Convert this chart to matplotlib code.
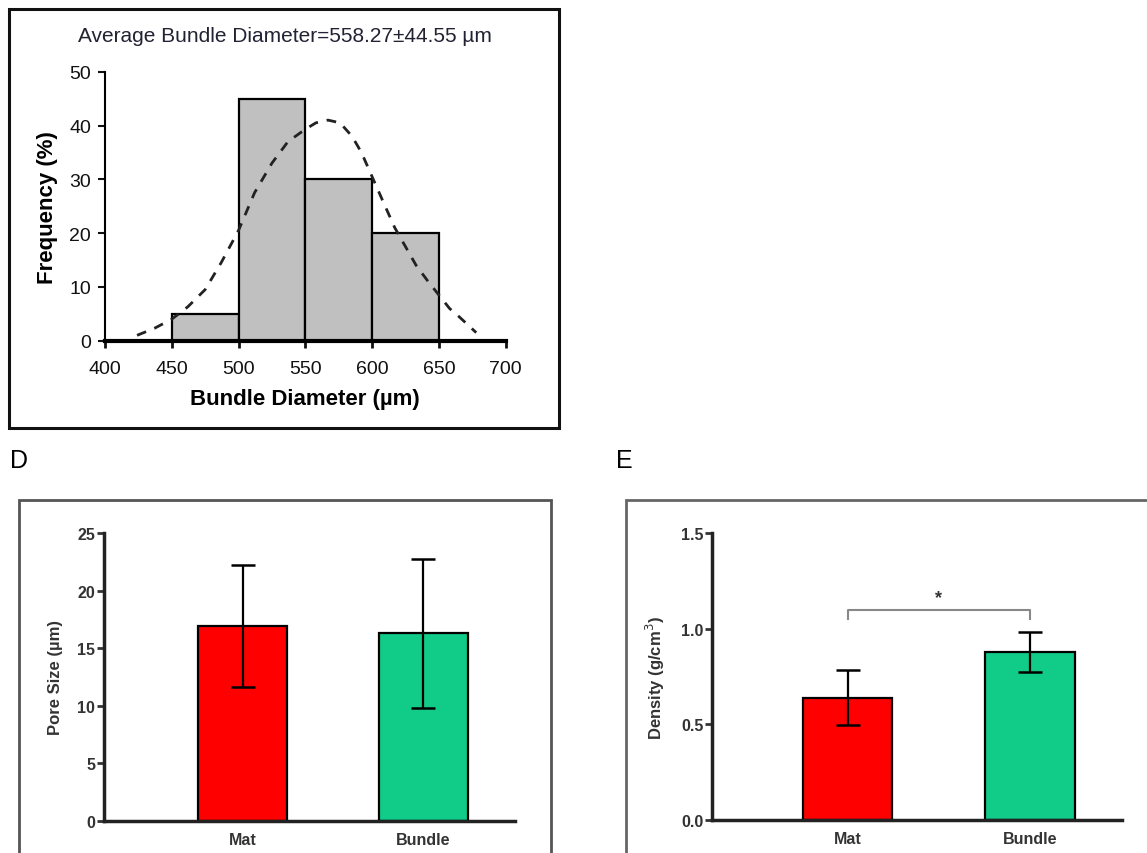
import matplotlib
matplotlib.use("Agg")
import matplotlib.pyplot as plt
from matplotlib.patches import Rectangle

plt.rcParams['font.family'] = ['Liberation Sans', 'DejaVu Sans']

# ---- data: histogram panel ----
bin_edges = [450, 500, 550, 600, 650]
frequency = [5, 45, 30, 20]
curve_x = [424, 437, 450, 462, 475, 487, 500, 512, 525, 537, 550, 558, 567, 576,
           585, 592, 600, 608, 617, 625, 633, 642, 650, 658, 665, 678]
curve_y = [1.0, 2.3, 4.0, 6.3, 9.5, 14.5, 20.5, 27.5, 33, 37, 39.3, 40.5, 41, 40.5,
           38, 35, 30.5, 26, 21, 17.5, 14, 11, 8.5, 6, 4.5, 1.5]
hist_title = "Average Bundle Diameter=558.27\u00b144.55 \u00b5m"
hist_xticks = [400, 450, 500, 550, 600, 650, 700]
hist_yticks = [0, 10, 20, 30, 40, 50]

# ---- data: bar panels ----
groups = ["Mat", "Bundle"]
pore_mean = [16.9, 16.3]
pore_err = [5.3, 6.5]
dens_mean = [0.64, 0.88]
dens_err = [0.145, 0.105]
pore_yticks = [0, 5, 10, 15, 20, 25]
dens_yticks = [0.0, 0.5, 1.0, 1.5]
bar_colors = ["#ff0000", "#10cc88"]

W, H = 1147, 854
fig = plt.figure(figsize=(W / 100, H / 100), dpi=100)


def frac_rect(x0, y0, x1, y1):
    """pixel box (top-left origin) -> figure fraction [l, b, w, h]"""
    return [x0 / W, 1 - y1 / H, (x1 - x0) / W, (y1 - y0) / H]


def add_box(x0, y0, x1, y1, color, lw):
    l, b, w, h = frac_rect(x0, y0, x1, y1)
    fig.patches.append(Rectangle((l, b), w, h, transform=fig.transFigure,
                                 fill=False, edgecolor=color, linewidth=lw,
                                 clip_on=False, zorder=0))


# panel frames
add_box(9, 10, 558.5, 429, "#111111", 2.2)
add_box(19, 501, 550.5, 900, "#555555", 2.0)
add_box(625.5, 501, 1200, 900, "#666666", 2.0)

# ---------------- histogram ----------------
ax1 = fig.add_axes(frac_rect(105, 72.7, 505.6, 341.7))
widths = [bin_edges[i + 1] - bin_edges[i] for i in range(len(frequency))]
ax1.bar(bin_edges[:-1], frequency, width=widths, align='edge',
        color="#c0c0c0", edgecolor="black", linewidth=1.6, zorder=2)
ax1.plot(curve_x, curve_y, color="#222222", linestyle=(0, (3.5, 3.2)),
         linewidth=2.0, zorder=3)
ax1.set_xlim(400, 700)
ax1.set_ylim(0, 50)
ax1.set_xticks(hist_xticks)
ax1.set_yticks(hist_yticks)
for s in ["top", "right"]:
    ax1.spines[s].set_visible(False)
ax1.spines["left"].set_linewidth(1.5)
ax1.spines["bottom"].set_linewidth(3.0)
ax1.tick_params(axis="y", direction="out", length=5, width=1.5,
                labelsize=14, colors="#111111", pad=5)
ax1.tick_params(axis="x", direction="out", length=5, width=2,
                labelsize=14, colors="#111111", pad=9)
ax1.set_xlabel("Bundle Diameter (\u00b5m)", fontsize=16, fontweight="bold",
               labelpad=8)
ax1.set_ylabel("Frequency (%)", fontsize=16, fontweight="bold", labelpad=8)
fig.text(285 / W, 1 - 37 / H, hist_title, ha="center", va="center",
         fontsize=15, color="#222233")

# panel letters
fig.text(10 / W, 1 - 461 / H, "D", fontsize=18, ha="left", va="center")
fig.text(616 / W, 1 - 461 / H, "E", fontsize=18, ha="left", va="center")


def bar_panel(rect_px, means, errs, yticks, ylim, ylabel, xlim, fmt):
    ax = fig.add_axes(frac_rect(*rect_px))
    x = list(range(len(groups)))
    ax.bar(x, means, width=0.49, color=bar_colors, edgecolor="black",
           linewidth=1.6, zorder=2)
    ax.errorbar(x, means, yerr=errs, fmt="none", ecolor="black",
                elinewidth=1.6, capsize=8.5, capthick=1.8, zorder=3)
    ax.set_xlim(*xlim)
    ax.set_ylim(*ylim)
    ax.set_xticks(x)
    ax.set_xticklabels(groups)
    ax.set_yticks(yticks)
    ax.set_yticklabels([fmt.format(v) for v in yticks])
    for s in ["top", "right"]:
        ax.spines[s].set_visible(False)
    for s in ["left", "bottom"]:
        ax.spines[s].set_linewidth(2.5)
        ax.spines[s].set_color("#222222")
    ax.tick_params(axis="y", direction="out", length=5, width=2,
                   labelsize=11.5, colors="#333333", pad=1)
    ax.tick_params(axis="x", length=0, labelsize=11.5, colors="#333333", pad=8)
    for lab in ax.get_xticklabels() + ax.get_yticklabels():
        lab.set_fontweight("bold")
    ax.set_ylabel(ylabel, fontsize=12, fontweight="bold", color="#333333",
                  labelpad=10)
    return ax


axD = bar_panel((103.6, 534.3, 515.4, 821.7), pore_mean, pore_err,
                pore_yticks, (0, 25), "Pore Size (\u00b5m)", (-0.769, 1.51),
                "{:g}")
axE = bar_panel((712, 534.3, 1122.4, 821.0), dens_mean, dens_err,
                dens_yticks, (0, 1.5), "Density (g/cm$^3$)", (-0.743, 1.507),
                "{:.1f}")

# significance bracket
axE.plot([0, 0, 1, 1], [1.05, 1.1, 1.1, 1.05], color="#888888",
         linewidth=1.5, zorder=4)
axE.text(0.5, 1.165, "*", ha="center", va="center", fontsize=13,
         fontweight="bold", color="#333333")

fig.savefig("out.png", dpi=100)
